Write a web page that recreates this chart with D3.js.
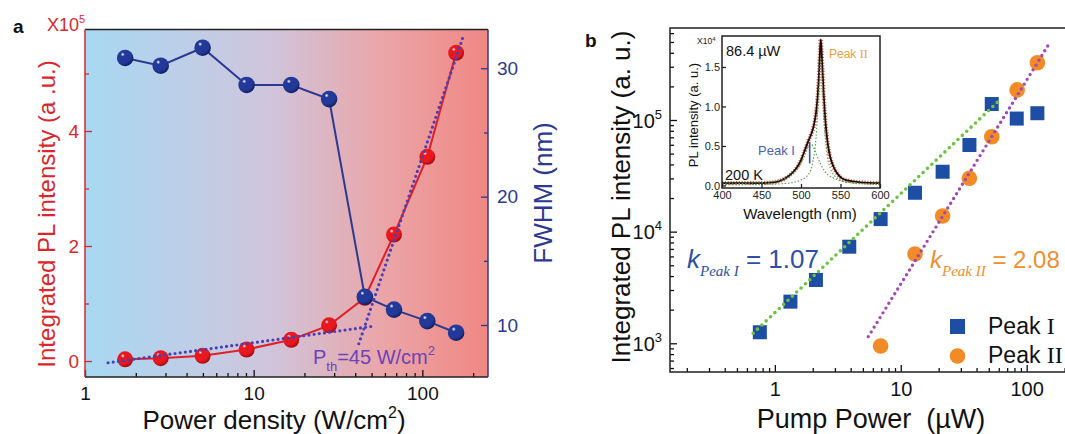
<!DOCTYPE html>
<html><head><meta charset="utf-8">
<script src="https://cdn.jsdelivr.net/npm/d3@7"></script>
<style>
html,body{margin:0;padding:0;background:#fff;}
svg{display:block;font-family:"Liberation Sans",Arial,sans-serif;}
</style></head>
<body>
<svg id="c" width="1065" height="434"></svg>
<script>
// ---------- DATA ----------
// Panel a
const densityA   = [1.73, 2.81, 4.98, 9.08, 16.7, 28.0, 45.6, 67.9, 107, 158.6];
const intensityA = [0.03, 0.05, 0.09, 0.20, 0.37, 0.62, 1.10, 2.20, 3.55, 5.36]; // x10^5
const fwhmA      = [30.8, 30.2, 31.6, 28.7, 28.7, 27.6, 12.2, 11.2, 10.3, 9.4];
const fitLowA    = [[1.37, -0.03], [49.5, 0.60]];
const fitHighA   = [[42, 0.30], [175, 5.65]];
const xTicksA    = [1, 10, 100];
const yTicksAL   = [0, 2, 4];
const yTicksAR   = [10, 20, 30];
// Panel b
const powerI  = [0.76, 1.33, 2.12, 3.9, 6.92, 12.97, 21.5, 35.1, 52.8, 83.4, 121.6];
const peakI   = [1255, 2360, 3690, 7330, 12960, 22300, 34400, 59700, 139000, 103000, 115000];
const powerII = [6.92, 12.97, 21.5, 35.1, 52.8, 84, 121.6];
const peakII  = [945, 6300, 13800, 30100, 70800, 186000, 326000];
const fitI    = [[0.672, 1229], [61.5, 152000]];
const fitII   = [[5.52, 1146], [151.5, 486000]];
const xTicksB = [1, 10, 100];
const yTicksB = [1e3, 1e4, 1e5];
// Inset spectrum (x10^4)
const specW  = [400,420,440,460,470,480,490,495,500,505,510,513,516,519,521,523,524,525,526,527,529,531,534,537,541,546,552,560,575,600];
const specI  = [0.03,0.03,0.03,0.035,0.05,0.09,0.17,0.23,0.32,0.45,0.58,0.65,0.75,0.92,1.12,1.45,1.70,1.85,1.72,1.50,1.10,0.80,0.52,0.36,0.24,0.15,0.09,0.06,0.04,0.03];
const comp1W = [400,440,470,490,500,505,510,513,516,520,525,530,540,550,570,600];
const comp1I = [0.02,0.03,0.06,0.15,0.28,0.40,0.50,0.52,0.48,0.38,0.27,0.18,0.10,0.06,0.03,0.02];
const comp2W = [400,460,480,500,510,515,519,522,524,525,526,528,530,533,537,545,560,600];
const comp2I = [0.01,0.015,0.025,0.07,0.15,0.30,0.60,1.10,1.50,1.62,1.50,1.10,0.70,0.40,0.22,0.10,0.04,0.015];
const insetXTicks = [400,450,500,550,600];
const insetYTicks = [0,0.5,1.0,1.5];

// ---------- SETUP ----------
const svg = d3.select("#c");
const defs = svg.append("defs");
const FONT = '"Liberation Sans",Arial,sans-serif';
const SERIF = '"Liberation Serif","Times New Roman",serif';
const RED = "#d8282c", NAVY = "#2b3990", SQ = "#1e4ea3", ORG = "#f28a26";

function sphereGrad(id, base, dark){
  const g = defs.append("radialGradient").attr("id", id)
    .attr("cx","38%").attr("cy","32%").attr("r","70%").attr("fx","35%").attr("fy","28%");
  g.append("stop").attr("offset","0%").attr("stop-color","#ffffff");
  g.append("stop").attr("offset","18%").attr("stop-color",base);
  g.append("stop").attr("offset","70%").attr("stop-color",base);
  g.append("stop").attr("offset","100%").attr("stop-color",dark);
}
sphereGrad("gRed", "#e8181e", "#a00a0e");
sphereGrad("gBlue", "#23399a", "#101d5c");

const bg = defs.append("linearGradient").attr("id","bgA").attr("x1","0%").attr("x2","100%");
bg.append("stop").attr("offset","0%").attr("stop-color","#a8d8f3");
bg.append("stop").attr("offset","45%").attr("stop-color","#cfc6dd");
bg.append("stop").attr("offset","75%").attr("stop-color","#eba4a6");
bg.append("stop").attr("offset","100%").attr("stop-color","#f08784");

// ---------- PANEL A ----------
const aL=85, aR=488, aT=29.5, aB=377;
const xa  = d3.scaleLog().domain([1,245]).range([aL,aR]);
const yaL = d3.scaleLinear().domain([-0.278,5.765]).range([aB,aT]);
const yaR = d3.scaleLinear().domain([5.95,33.02]).range([aB,aT]);

svg.append("rect").attr("x",aL).attr("y",aT).attr("width",aR-aL).attr("height",aB-aT).attr("fill","url(#bgA)");

function minorLog(lo, hi){
  const out=[];
  for(let e=-3;e<7;e++){ for(let m=2;m<10;m++){ const v=m*Math.pow(10,e); if(v>lo && v<hi) out.push(v);} }
  return out;
}
function styleAxis(g, color, size){
  g.select(".domain").remove();
  g.selectAll("line").attr("stroke",color).attr("stroke-width",1.3);
  g.selectAll("text").attr("fill",color).attr("font-size",size).attr("font-family",FONT);
}

// bottom axis a
let g = svg.append("g").attr("transform",`translate(0,${aB})`)
  .call(d3.axisBottom(xa).tickValues(xTicksA).tickSize(-7).tickSizeOuter(0).tickPadding(10).tickFormat(d3.format("d")));
styleAxis(g,"#111",19);
g = svg.append("g").attr("transform",`translate(0,${aB})`)
  .call(d3.axisBottom(xa).tickValues(minorLog(1,245)).tickSize(-4).tickSizeOuter(0).tickFormat(""));
styleAxis(g,"#111",19);
// left axis a
g = svg.append("g").attr("transform",`translate(${aL},0)`)
  .call(d3.axisLeft(yaL).tickValues(yTicksAL).tickSize(-7).tickSizeOuter(0).tickPadding(6).tickFormat(d3.format("d")));
styleAxis(g,RED,19);
g = svg.append("g").attr("transform",`translate(${aL},0)`)
  .call(d3.axisLeft(yaL).tickValues([1,3,5]).tickSize(-4).tickSizeOuter(0).tickFormat(""));
styleAxis(g,RED,19);
// right axis a
g = svg.append("g").attr("transform",`translate(${aR},0)`)
  .call(d3.axisRight(yaR).tickValues(yTicksAR).tickSize(-7).tickSizeOuter(0).tickPadding(9).tickFormat(d3.format("d")));
styleAxis(g,NAVY,19);
g = svg.append("g").attr("transform",`translate(${aR},0)`)
  .call(d3.axisRight(yaR).tickValues([15,25]).tickSize(-4).tickSizeOuter(0).tickFormat(""));
styleAxis(g,NAVY,19);

// frame
svg.append("line").attr("x1",aL).attr("x2",aR).attr("y1",aT).attr("y2",aT).attr("stroke","#222").attr("stroke-width",1.5);
svg.append("line").attr("x1",aL).attr("x2",aR).attr("y1",aB).attr("y2",aB).attr("stroke","#222").attr("stroke-width",1.5);
svg.append("line").attr("x1",aL).attr("x2",aL).attr("y1",aT).attr("y2",aB).attr("stroke",RED).attr("stroke-width",1.5);
svg.append("line").attr("x1",aR).attr("x2",aR).attr("y1",aT).attr("y2",aB).attr("stroke",NAVY).attr("stroke-width",1.5);

// lines
const ptsI = densityA.map((d,i)=>[d,intensityA[i]]);
const ptsF = densityA.map((d,i)=>[d,fwhmA[i]]);
svg.append("path").attr("d", d3.line().x(d=>xa(d[0])).y(d=>yaR(d[1]))(ptsF))
  .attr("fill","none").attr("stroke",NAVY).attr("stroke-width",2);
svg.append("path").attr("d", d3.line().x(d=>xa(d[0])).y(d=>yaL(d[1]))(ptsI))
  .attr("fill","none").attr("stroke","#e02027").attr("stroke-width",2);
svg.append("g").selectAll("circle").data(ptsI).join("circle")
  .attr("cx",d=>xa(d[0])).attr("cy",d=>yaL(d[1])).attr("r",8).attr("fill","url(#gRed)");
svg.append("g").selectAll("circle").data(ptsF).join("circle")
  .attr("cx",d=>xa(d[0])).attr("cy",d=>yaR(d[1])).attr("r",8.3).attr("fill","url(#gBlue)");
// fit lines
[fitLowA, fitHighA].forEach(f=>{
  svg.append("path").attr("d", d3.line().x(d=>xa(d[0])).y(d=>yaL(d[1]))(f))
    .attr("fill","none").attr("stroke","#4a3fb8").attr("stroke-width",3.2)
    .attr("stroke-linecap","round").attr("stroke-dasharray","0,5.2");
});

// text a
svg.append("text").attr("x",13).attr("y",33).attr("font-size",19).attr("font-weight","bold").attr("font-family",FONT).attr("fill","#111").text("a");
const x10 = svg.append("text").attr("x",47).attr("y",31).attr("font-size",18).attr("fill",RED).attr("font-family",FONT);
x10.append("tspan").text("X10");
x10.append("tspan").attr("dy",-8).attr("font-size",11).text("5");
svg.append("text").attr("transform","translate(55,214) rotate(-90)").attr("text-anchor","middle")
  .attr("font-size",24).attr("fill",RED).attr("font-family",FONT).text("Integrated PL intensity (a .u.)");
svg.append("text").attr("transform","translate(552,193) rotate(-90)").attr("text-anchor","middle")
  .attr("font-size",26).attr("fill",NAVY).attr("font-family",FONT).text("FWHM (nm)");
const pd = svg.append("text").attr("x",274).attr("y",429).attr("text-anchor","middle")
  .attr("font-size",26).attr("fill","#111").attr("font-family",FONT);
pd.append("tspan").text("Power density (W/cm");
pd.append("tspan").attr("dy",-11).attr("font-size",16).text("2");
pd.append("tspan").attr("dy",11).text(")");
const pth = svg.append("text").attr("x",313).attr("y",364).attr("font-size",20).attr("fill","#6a44b8").attr("font-family",FONT);
pth.append("tspan").text("P");
pth.append("tspan").attr("dy",7).attr("font-size",13).text("th");
pth.append("tspan").attr("dy",-7).text("=45 W/cm");
pth.append("tspan").attr("dy",-9).attr("font-size",13).text("2");

// ---------- PANEL B ----------
const bL=670, bR=1075, bT=28, bB=372;
const xb = d3.scaleLog().domain([0.147,242]).range([bL,bR]);
const yb = d3.scaleLog().domain([553,6.67e5]).range([bB,bT]);

g = svg.append("g").attr("transform",`translate(0,${bB})`)
  .call(d3.axisBottom(xb).tickValues(xTicksB).tickSize(-7).tickSizeOuter(0).tickPadding(10).tickFormat(d3.format("d")));
styleAxis(g,"#111",20);
g = svg.append("g").attr("transform",`translate(0,${bB})`)
  .call(d3.axisBottom(xb).tickValues(minorLog(0.147,242)).tickSize(-4).tickSizeOuter(0).tickFormat(""));
styleAxis(g,"#111",20);
g = svg.append("g").attr("transform",`translate(${bL},0)`)
  .call(d3.axisLeft(yb).tickValues(yTicksB).tickSize(-7).tickSizeOuter(0).tickPadding(8).tickFormat(""));
styleAxis(g,"#111",20);
g.selectAll(".tick").append("text").attr("x",-8).attr("dy","0.35em").attr("text-anchor","end")
  .attr("font-size",20).attr("fill","#111").attr("font-family",FONT)
  .each(function(d){
    const t=d3.select(this);
    t.append("tspan").text("10");
    t.append("tspan").attr("dy",-9).attr("font-size",13).text(String(Math.round(Math.log10(d))));
  });
g = svg.append("g").attr("transform",`translate(${bL},0)`)
  .call(d3.axisLeft(yb).tickValues(minorLog(553,6.67e5)).tickSize(-4).tickSizeOuter(0).tickFormat(""));
styleAxis(g,"#111",20);
svg.append("rect").attr("x",bL).attr("y",bT).attr("width",bR-bL).attr("height",bB-bT)
  .attr("fill","none").attr("stroke","#222").attr("stroke-width",1.5);

// markers
const sq=14;
svg.append("g").selectAll("rect").data(powerI.map((p,i)=>[p,peakI[i]])).join("rect")
  .attr("x",d=>xb(d[0])-sq/2).attr("y",d=>yb(d[1])-sq/2).attr("width",sq).attr("height",sq).attr("fill",SQ);
svg.append("g").selectAll("circle").data(powerII.map((p,i)=>[p,peakII[i]])).join("circle")
  .attr("cx",d=>xb(d[0])).attr("cy",d=>yb(d[1])).attr("r",7.8).attr("fill",ORG);
svg.append("path").attr("d", d3.line().x(d=>xb(d[0])).y(d=>yb(d[1]))(fitI))
  .attr("fill","none").attr("stroke","#6dc33f").attr("stroke-width",3.6)
  .attr("stroke-linecap","round").attr("stroke-dasharray","0,6");
svg.append("path").attr("d", d3.line().x(d=>xb(d[0])).y(d=>yb(d[1]))(fitII))
  .attr("fill","none").attr("stroke","#a04ab0").attr("stroke-width",3.4)
  .attr("stroke-linecap","round").attr("stroke-dasharray","0,5.6");

// text b
svg.append("text").attr("x",585).attr("y",47).attr("font-size",19).attr("font-weight","bold").attr("font-family",FONT).attr("fill","#111").text("b");
svg.append("text").attr("transform","translate(630,197) rotate(-90)").attr("text-anchor","middle")
  .attr("font-size",26).attr("fill","#111").attr("font-family",FONT).text("Integrated PL intensity (a. u.)");
svg.append("text").attr("x",871).attr("y",428).attr("text-anchor","middle")
  .attr("font-size",27).attr("fill","#111").attr("font-family",FONT).text("Pump Power\u00a0\u00a0(\u00b5W)");

function kLabel(x,y,color,sub,val,fs){
  const t = svg.append("text").attr("x",x).attr("y",y).attr("fill",color).attr("font-family",FONT).attr("font-size",fs);
  t.append("tspan").attr("font-style","italic").text("k");
  t.append("tspan").attr("dy",8).attr("font-size",15).attr("font-style","italic").attr("font-family",SERIF).text(sub);
  t.append("tspan").attr("dy",-8).text(" = "+val);
}
kLabel(687,268,"#2d4fa6","Peak I","1.07",26);
kLabel(930,268,"#ec9030","Peak II","2.08",24);

// legend
svg.append("rect").attr("x",950).attr("y",319).attr("width",15).attr("height",15).attr("fill",SQ);
svg.append("circle").attr("cx",957.5).attr("cy",356).attr("r",7.8).attr("fill",ORG);
function legText(y, roman){
  const t=svg.append("text").attr("x",988).attr("y",y).attr("font-size",23).attr("fill","#111").attr("font-family",FONT);
  t.append("tspan").text("Peak ");
  t.append("tspan").attr("font-family",SERIF).attr("font-size",24).text(roman);
}
legText(334,"I");
legText(363,"II");

// ---------- INSET ----------
const iL=722, iR=880, iT=36, iB=188;
const xi = d3.scaleLinear().domain([400,600]).range([iL,iR]);
const yi = d3.scaleLinear().domain([-0.032,1.892]).range([iB,iT]);
svg.append("rect").attr("x",iL).attr("y",iT).attr("width",iR-iL).attr("height",iB-iT).attr("fill","#fff");
const spec = specW.map((w,i)=>[w,specI[i]]);
const c1 = comp1W.map((w,i)=>[w,comp1I[i]]);
const c2 = comp2W.map((w,i)=>[w,comp2I[i]]);
const li = d3.line().x(d=>xi(d[0])).y(d=>yi(d[1])).curve(d3.curveMonotoneX);
svg.append("path").attr("d",li(spec)).attr("fill","none").attr("stroke","#d0402a").attr("stroke-width",4.2)
  .attr("stroke-dasharray","1.2,1.6").attr("opacity",0.8);
svg.append("path").attr("d",li(spec)).attr("fill","none").attr("stroke","#1a0a08").attr("stroke-width",1.8);
[c1,c2].forEach(c=>{
  svg.append("path").attr("d",li(c)).attr("fill","none").attr("stroke","#5a9a4a").attr("stroke-width",1.1)
    .attr("stroke-dasharray","1.5,1.8");
});
g = svg.append("g").attr("transform",`translate(0,${iB})`)
  .call(d3.axisBottom(xi).tickValues(insetXTicks).tickSize(-4).tickSizeOuter(0).tickPadding(3));
styleAxis(g,"#222",11);
g = svg.append("g").attr("transform",`translate(${iL},0)`)
  .call(d3.axisLeft(yi).tickValues(insetYTicks).tickSize(-4).tickSizeOuter(0).tickPadding(2).tickFormat(d3.format(".1f")));
styleAxis(g,"#222",11);
svg.append("rect").attr("x",iL).attr("y",iT).attr("width",iR-iL).attr("height",iB-iT)
  .attr("fill","none").attr("stroke","#222").attr("stroke-width",1.5);
svg.append("line").attr("x1",xi(511)).attr("x2",xi(511)).attr("y1",yi(0.55)).attr("y2",yi(0.28))
  .attr("stroke","#3050b0").attr("stroke-width",1.6);
const ix = svg.append("text").attr("x",697).attr("y",44).attr("font-size",8.5).attr("fill","#222").attr("font-family",FONT);
ix.append("tspan").text("X10");
ix.append("tspan").attr("dy",-3).attr("font-size",6).text("4");
svg.append("text").attr("x",726).attr("y",56).attr("font-size",14.5).attr("fill","#111").attr("font-family",FONT).text("86.4 \u00b5W");
const pk2 = svg.append("text").attr("x",829).attr("y",58).attr("font-size",12).attr("fill","#e8a040").attr("font-family",FONT);
pk2.append("tspan").text("Peak ");
pk2.append("tspan").attr("font-family",SERIF).text("II");
svg.append("text").attr("x",758).attr("y",155).attr("font-size",13).attr("fill","#4a5fb8").attr("font-family",FONT).text("Peak I");
svg.append("text").attr("x",725).attr("y",180).attr("font-size",14.5).attr("fill","#111").attr("font-family",FONT).text("200 K");
svg.append("text").attr("x",800).attr("y",219).attr("text-anchor","middle").attr("font-size",15).attr("fill","#111").attr("font-family",FONT).text("Wavelength (nm)");
svg.append("text").attr("transform","translate(698,115) rotate(-90)").attr("text-anchor","middle")
  .attr("font-size",13).attr("fill","#111").attr("font-family",FONT).text("PL intensity (a. u.)");
</script>
</body></html>
